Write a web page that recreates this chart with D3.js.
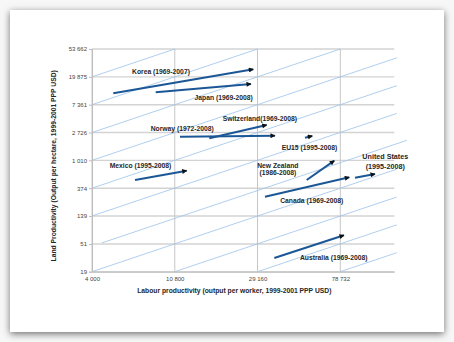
<!DOCTYPE html>
<html>
<head>
<meta charset="utf-8">
<script src="https://cdn.jsdelivr.net/npm/d3@7/dist/d3.min.js"></script>
<style>
  html, body { margin: 0; padding: 0; background: #ffffff; }
  #wrap { position: relative; width: 454px; height: 342px; overflow: hidden; background: #f7f7f7; }
  #card { position: absolute; left: 10px; top: 10px; width: 434px; height: 322px; background: #fff;
          box-shadow: 0 2px 7px rgba(0,0,0,0.55); }
  svg { position: absolute; left: 0; top: 0; }
</style>
</head>
<body>
<div id="wrap"><div id="card"></div><svg id="chart" width="454" height="342"></svg></div>
<script>
// ---- data ----
const xTicks = [4000, 10800, 29160, 78732];
const xTickLabels = ["4 000", "10 800", "29 160", "78 732"];
const yTicks = [19, 51, 139, 374, 1010, 2726, 7361, 19875, 53662];
const yTickLabels = ["19", "51", "139", "374", "1 010", "2 726", "7 361", "19 875", "53 662"];

const countries = ["Korea", "Japan", "Norway", "Switzerland", "EU15", "Mexico", "New Zealand", "Canada", "United States", "Australia"];
const startLabour = [5165, 8591, 11500, 16345, 51541, 6701, 52600, 31893, 93900, 35655];
const startLand   = [11062, 11464, 2351, 2220, 2268, 501, 501, 276, 544, 31];
const endLabour   = [27717, 26960, 35960, 32553, 56265, 12462, 73250, 87700, 119400, 82290];
const endLand     = [26041, 15419, 2437, 3568, 2410, 699, 998, 552, 621, 69.7];

const labelLines = [["Korea (1969-2007)"], ["Japan (1969-2008)"], ["Norway (1972-2008)"], ["Switzerland(1969-2008)"],
  ["EU15 (1995-2008)"], ["Mexico (1995-2008)"], ["New Zealand", "(1986-2008)"], ["Canada (1969-2008)"],
  ["United States", "(1995-2008)"], ["Australia (1969-2008)"]];
const labelLabour = [9155, 19430, 11807, 29964, 54400, 7159, 37190, 55860, 135100, 72720];
const labelLand   = [24250, 9457, 3095, 4533, 1611, 826, 742, 237, 960, 31.3];

// iso land-per-worker reference lines (start point)
const isoStartLabour = [4000, 4000, 4000, 4000, 4000, 4000, 4494, 4000, 10800, 29160, 78732];
const isoStartLand   = [19875, 7361, 2726, 1010, 374, 139, 53, 19, 19, 19, 19];
const isoEndLabour   = [155000, 155000, 155000, 155000, 155000, 155000, 175000, 155000, 155000, 155000, 155000];

// ---- chart ----
const svg = d3.select("#chart");
const x = d3.scaleLog().domain([4000, 150500]).range([92, 394.3]);
const y = d3.scaleLog().domain([19, 53662]).range([271.7, 49]);

const g = svg.append("g");

// horizontal gridlines
g.selectAll("line.hg").data(yTicks).enter().append("line")
  .attr("x1", x(4000)).attr("x2", x.range()[1])
  .attr("y1", d => y(d)).attr("y2", d => y(d))
  .attr("stroke", "#d3d3d3").attr("stroke-width", 1.4);
// vertical gridlines
g.selectAll("line.vg").data(xTicks).enter().append("line")
  .attr("x1", d => x(d)).attr("x2", d => x(d))
  .attr("y1", y(19)).attr("y2", y(53662))
  .attr("stroke", "#c6c6c6").attr("stroke-width", 1);

// iso lines
const yMax = 53662;
g.selectAll("line.iso").data(isoStartLabour).enter().append("line")
  .each(function(x0, i) {
    const y0 = isoStartLand[i];
    let xe = isoEndLabour[i];
    const xTop = x0 * yMax / y0;
    let ye;
    if (xTop < xe) { xe = xTop; ye = yMax; } else { ye = y0 * xe / x0; }
    d3.select(this).attr("x1", x(x0)).attr("y1", y(y0)).attr("x2", x(xe)).attr("y2", y(ye));
  })
  .attr("stroke", "#9cc3e8").attr("stroke-width", 0.8);

// axes
const xAxis = d3.axisBottom(x).tickValues(xTicks).tickFormat((d, i) => xTickLabels[i]).tickSize(0).tickPadding(4);
const yAxis = d3.axisLeft(y).tickValues(yTicks).tickFormat((d, i) => yTickLabels[i]).tickSize(3).tickPadding(2);
const xa = svg.append("g").attr("transform", `translate(0,${y(19)})`).call(xAxis);
const ya = svg.append("g").attr("transform", `translate(${x(4000)},0)`).call(yAxis);
[xa, ya].forEach(a => {
  a.select(".domain").attr("stroke", "#bdbdbd");
  a.selectAll(".tick line").attr("stroke", "#bdbdbd");
  a.selectAll("text").attr("font-family", "Liberation Sans, Arial, sans-serif").attr("font-size", 6).attr("fill", "#444");
});
xa.selectAll(".tick text").attr("dy", "0.9em");

// arrow marker
svg.append("defs").append("marker").attr("id", "ah")
  .attr("viewBox", "0 0 10 10").attr("refX", 9).attr("refY", 5)
  .attr("markerUnits", "userSpaceOnUse").attr("markerWidth", 6.5).attr("markerHeight", 5)
  .attr("orient", "auto")
  .append("path").attr("d", "M0,0 L10,5 L0,10 z").attr("fill", "#111");

// arrows
svg.selectAll("line.arrow").data(countries).enter().append("line")
  .attr("x1", (d, i) => x(startLabour[i])).attr("y1", (d, i) => y(startLand[i]))
  .attr("x2", (d, i) => x(endLabour[i])).attr("y2", (d, i) => y(endLand[i]))
  .attr("stroke", "#1b5796").attr("stroke-width", 2).attr("marker-end", "url(#ah)");

// labels
svg.selectAll("text.lab").data(countries).enter().append("text")
  .attr("text-anchor", "middle")
  .attr("font-family", "Liberation Sans, Arial, sans-serif")
  .attr("font-weight", "bold")
  .attr("font-size", (d, i) => d === "United States" ? 7.2 : 6.75)
  .attr("fill", "#262626")
  .each(function(d, i) {
    const lines = labelLines[i];
    const lh = d === "United States" ? 9.7 : 7.4;
    const cx = x(labelLabour[i]), cy = y(labelLand[i]);
    const t = d3.select(this);
    lines.forEach((s, k) => {
      t.append("tspan").attr("x", cx)
        .attr("y", cy + (k - (lines.length - 1) / 2) * lh)
        .attr("dy", "0.35em").text(s);
    });
  });

// axis titles
svg.append("text").attr("x", 234.3).attr("y", 290.7).attr("dy", "0.35em")
  .attr("text-anchor", "middle").attr("font-family", "Liberation Sans, Arial, sans-serif")
  .attr("font-weight", "bold").attr("font-size", 6.75).attr("fill", "#262626")
  .text("Labour productivity (output per worker, 1999-2001 PPP USD)");
svg.append("text").attr("transform", "translate(53.3,165.8) rotate(-90)").attr("dy", "0.35em")
  .attr("text-anchor", "middle").attr("font-family", "Liberation Sans, Arial, sans-serif")
  .attr("font-weight", "bold").attr("font-size", 6.75).attr("fill", "#262626")
  .text("Land Productivity (Output per hectare, 1999-2001 PPP USD)");
</script>
</body>
</html>
